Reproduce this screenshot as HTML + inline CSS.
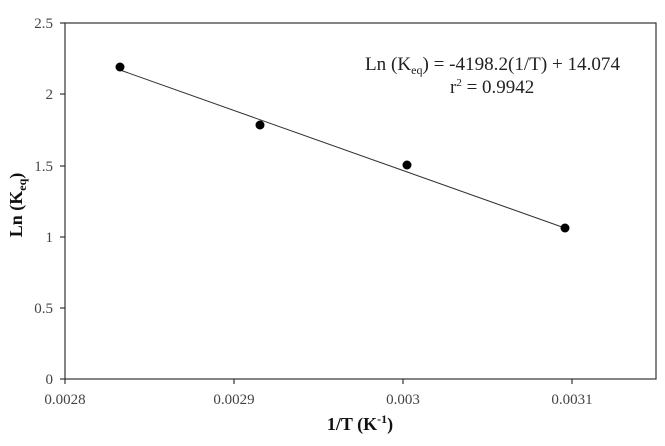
<!DOCTYPE html>
<html><head><style>body{margin:0;background:#fff}</style></head><body>
<svg width="665" height="441" xmlns="http://www.w3.org/2000/svg" font-family="Liberation Serif, serif">
<rect x="0" y="0" width="665" height="441" fill="#fff"/>
<rect x="65" y="23" width="591" height="356" fill="none" stroke="#333" stroke-width="1.2"/>
<g stroke="#333" stroke-width="1.2">
<line x1="60" y1="379" x2="65" y2="379"/><line x1="60" y1="308" x2="65" y2="308"/><line x1="60" y1="237" x2="65" y2="237"/><line x1="60" y1="166" x2="65" y2="166"/><line x1="60" y1="94" x2="65" y2="94"/><line x1="60" y1="23" x2="65" y2="23"/>
<line x1="65" y1="379" x2="65" y2="384"/><line x1="234" y1="379" x2="234" y2="384"/><line x1="403" y1="379" x2="403" y2="384"/><line x1="572" y1="379" x2="572" y2="384"/>
</g>
<g font-size="15" fill="#444" text-anchor="end">
<text x="53" y="384">0</text><text x="53" y="313">0.5</text><text x="53" y="242">1</text><text x="53" y="171">1.5</text><text x="53" y="99">2</text><text x="53" y="28">2.5</text>
</g>
<g font-size="15" fill="#444" text-anchor="middle">
<text x="65" y="404">0.0028</text><text x="234" y="404">0.0029</text><text x="403" y="404">0.003</text><text x="572" y="404">0.0031</text>
</g>
<line x1="120" y1="70" x2="562" y2="227" stroke="#333" stroke-width="1"/>
<g fill="#000"><circle cx="120" cy="67" r="4.5"/><circle cx="260" cy="125" r="4.5"/><circle cx="407" cy="165" r="4.5"/><circle cx="565" cy="228" r="4.5"/></g>
<text x="365" y="70" font-size="19" fill="#222" textLength="255" lengthAdjust="spacingAndGlyphs">Ln (K<tspan font-size="12" dy="4">eq</tspan><tspan dy="-4">) = -4198.2(1/T) + 14.074</tspan></text>
<text x="450" y="93" font-size="19" fill="#222">r<tspan font-size="11" dy="-7">2</tspan><tspan dy="7"> = 0.9942</tspan></text>
<text x="360" y="430" font-size="18" font-weight="bold" text-anchor="middle" fill="#111">1/T (K<tspan font-size="12" dy="-7">-1</tspan><tspan dy="7">)</tspan></text>
<text transform="translate(22,205) rotate(-90)" font-size="18" font-weight="bold" text-anchor="middle" fill="#111">Ln (K<tspan font-size="12" dy="4">eq</tspan><tspan dy="-4">)</tspan></text>
</svg>
</body></html>
